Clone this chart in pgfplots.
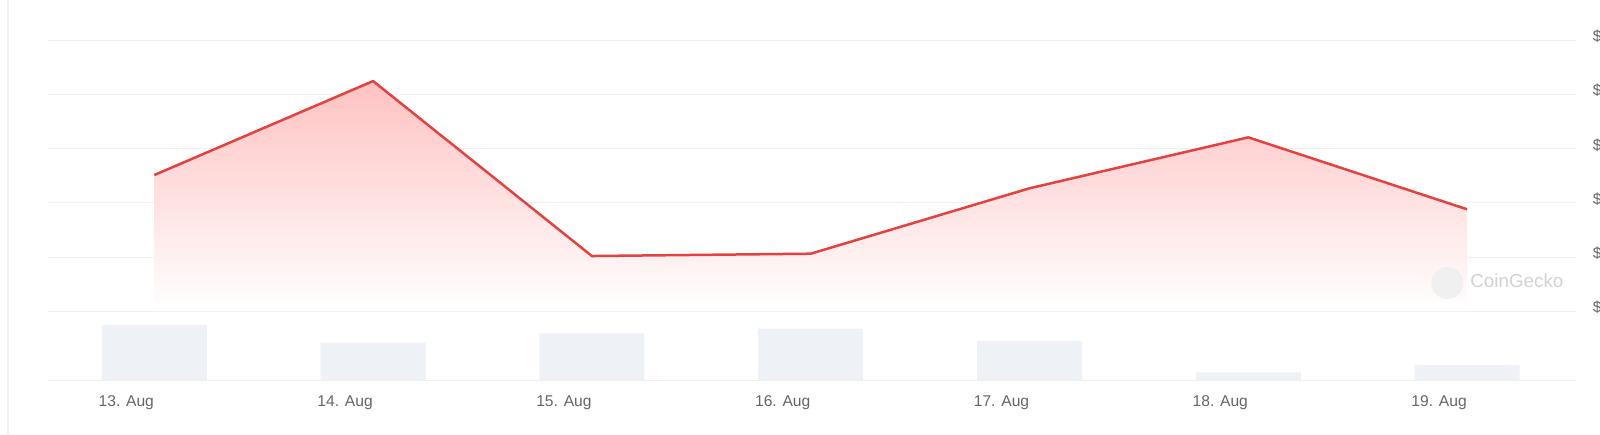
\documentclass[border=0pt]{standalone}
\usepackage{pgfplots}
\usepackage{pgfplotstable}
\pgfplotsset{compat=1.18}
\usepackage{fontspec}
\setmainfont{Liberation Sans}
\definecolor{cgred}{HTML}{E5413F}
\definecolor{cgfill}{HTML}{FFC2C2}
\definecolor{gridgray}{HTML}{F0F0F0}
\definecolor{volbar}{HTML}{EEF1F5}
\definecolor{labelgray}{HTML}{666666}
\definecolor{markgray}{HTML}{D2D2D2}

% price (grid units) and volume (px), one row per day
\pgfplotstableread{
x price
0 2.515
1 4.251
2 1.019
3 1.062
4 2.270
5 3.211
6 1.882
}\pricedata
\pgfplotstableread{
x vol
0 55
1 37.3
2 46.7
3 51.4
4 39.2
5 7.6
6 15
}\voldata

\begin{document}
\begin{tikzpicture}
\draw[color=gridgray, line width=0.6pt] (4pt,0) -- (4pt,217pt);

% price panel
\begin{axis}[
    at={(24.15pt,61.4pt)}, anchor=south west,
    scale only axis, width=764.2pt, height=135.35pt,
    xmin=-0.4845, xmax=6.501, ymin=0, ymax=5,
    axis line style={draw=none},
    major tick length=0pt,
    xtick=\empty,
    ytick={0,...,5},
    ymajorgrids,
    grid style={gridgray, line width=0.5pt},
    yticklabel pos=right,
    yticklabel={\$},
    yticklabel style={anchor=west, inner sep=0pt, xshift=7.9pt, yshift=2pt,
        font=\fontsize{7.8}{9}\selectfont, text=labelgray},
    clip=false,
]
\addplot[draw=none, shading=axis, top color=cgfill, bottom color=white]
    table[x=x, y=price] {\pricedata} \closedcycle;
\addplot[cgred, line width=1.25pt, line join=round, mark=none]
    table[x=x, y=price] {\pricedata};
\end{axis}

% volume panel
\begin{axis}[
    at={(24.15pt,27pt)}, anchor=south west,
    scale only axis, width=764.2pt, height=30pt,
    xmin=-0.4845, xmax=6.501, ymin=0, ymax=60,
    ybar, bar width=52.5pt,
    axis x line=bottom, axis y line=none,
    x axis line style={draw=gridgray, -},
    major tick length=0pt,
    xtick={0,...,6},
    xticklabels={13. Aug,14. Aug,15. Aug,16. Aug,17. Aug,18. Aug,19. Aug},
    xticklabel style={anchor=north, xshift=-14pt, yshift=-4.5pt,
        font=\fontsize{7.8}{9}\selectfont, text=labelgray},
]
\addplot[draw=none, fill=volbar] table[x=x, y=vol] {\voldata};
\end{axis}

% watermark
\fill[color=gridgray] (723.7pt,75.5pt) circle (8pt);
\node[anchor=west, inner sep=0pt, text=markgray, font=\fontsize{9.4}{11}\selectfont]
    at (735pt,76.5pt) {CoinGecko};

\pgfresetboundingbox
\useasboundingbox (0,0) rectangle (800pt,217pt);
\end{tikzpicture}
\end{document}
